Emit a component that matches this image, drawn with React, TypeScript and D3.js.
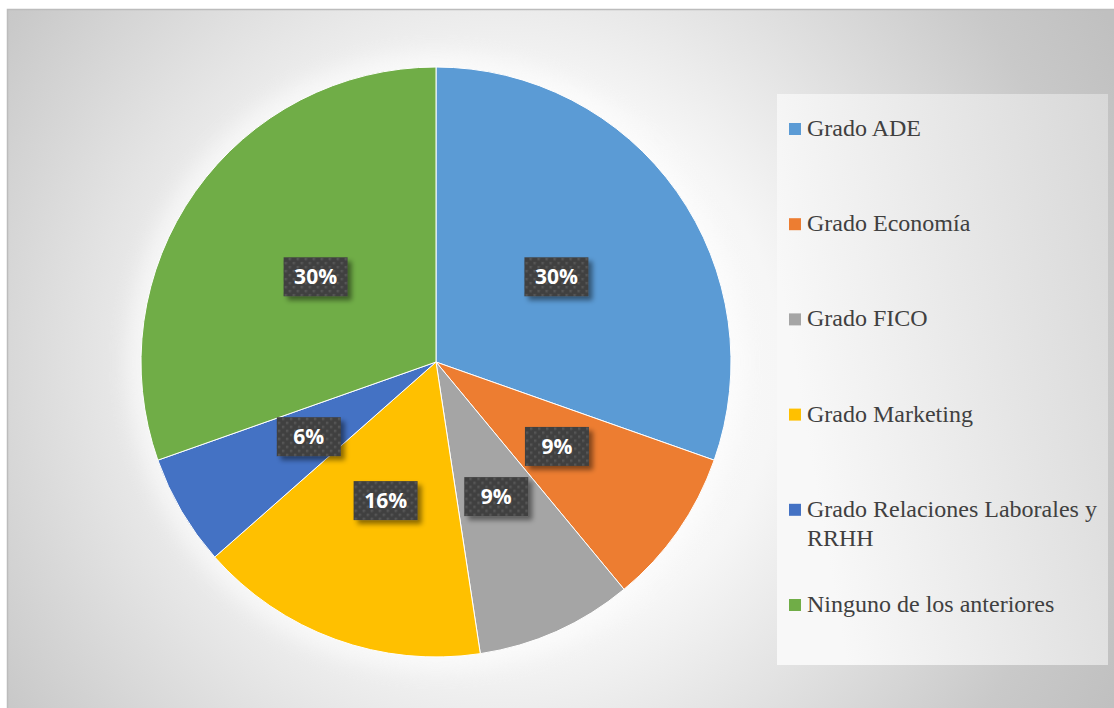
import React from "react";
import * as d3 from "d3";

const categories = [
  "Grado ADE",
  "Grado Economía",
  "Grado FICO",
  "Grado Marketing",
  "Grado Relaciones Laborales y RRHH",
  "Ninguno de los anteriores",
];
const legendLines = [
  ["Grado ADE"],
  ["Grado Economía"],
  ["Grado FICO"],
  ["Grado Marketing"],
  ["Grado Relaciones Laborales y", "RRHH"],
  ["Ninguno de los anteriores"],
];
const values = [30.4, 8.6, 8.6, 15.9, 6.1, 30.4];
const colors = ["#5B9BD5", "#ED7D31", "#A5A5A5", "#FFC000", "#4472C4", "#70AD47"];

const W = 1114;
const H = 708;
const cx = 436;
const cy = 362;
const R = 295;

export default function App() {
  const total = d3.sum(values);
  const pie = d3.pie<number>().sort(null).value((d) => d)(values);
  const arc = d3.arc<d3.PieArcDatum<number>>().innerRadius(0).outerRadius(R);
  const labelArc = d3.arc<d3.PieArcDatum<number>>().innerRadius(R * 0.5).outerRadius(R * 0.5);
  const fmt = (v: number) => `${Math.round((v / total) * 100)}%`;

  const legendX = 777;
  const legendY = 94;
  const legendW = 331;
  const legendH = 571;
  const baseline0 = 136;
  const step = 95.2;

  return (
    <svg
      width={W}
      height={H}
      style={{ position: "absolute", left: 0, top: 0, display: "block" }}
    >
      <defs>
        <radialGradient id="bg" cx="500" cy="365" r="700" gradientUnits="userSpaceOnUse">
          <stop offset="0" stopColor="#ffffff" />
          <stop offset="0.4" stopColor="#f6f6f6" />
          <stop offset="0.85" stopColor="#c9c9c9" />
          <stop offset="1" stopColor="#c0c0c0" />
        </radialGradient>
        <linearGradient id="leg" x1="0" y1="0.3" x2="1" y2="0">
          <stop offset="0" stopColor="#f8f8f8" />
          <stop offset="1" stopColor="#d8d8d8" />
        </linearGradient>
        <pattern id="dots" width="8" height="8" patternUnits="userSpaceOnUse">
          <rect width="8" height="8" fill="#3f3f3f" />
          <rect x="1" y="1" width="2.5" height="2.5" fill="#565656" />
          <rect x="5" y="5" width="2.5" height="2.5" fill="#565656" />
        </pattern>
        <filter id="shadow" x="-30%" y="-30%" width="160%" height="160%">
          <feDropShadow dx="4" dy="4" stdDeviation="2.5" floodColor="#000" floodOpacity="0.45" />
        </filter>
        <filter id="pieShadow" x="-20%" y="-20%" width="140%" height="140%">
          <feGaussianBlur stdDeviation="10" />
        </filter>
      </defs>
      <rect x={0} y={0} width={W} height={H} fill="#ffffff" />
      <rect x={7.5} y={9.5} width={W} height={H} fill="url(#bg)" stroke="#bcbcbc" strokeWidth={1.5} />
      <circle cx={cx} cy={cy} r={R + 14} fill="#ffffff" opacity={0.55} filter="url(#pieShadow)" />

      <rect x={legendX} y={legendY} width={legendW} height={legendH} fill="url(#leg)" />

      <g transform={`translate(${cx},${cy})`}>
        {pie.map((p, i) => (
          <path key={categories[i]} d={arc(p) || ""} fill={colors[i]} stroke="#ffffff" strokeWidth={1} />
        ))}
        {pie.map((p, i) => {
          const [lx, ly] = labelArc.centroid(p);
          const bw = 64;
          const bh = 39;
          return (
            <g key={"l" + i} transform={`translate(${lx},${ly})`}>
              <rect x={-bw / 2} y={-bh / 2} width={bw} height={bh} fill="url(#dots)" filter="url(#shadow)" />
              <text
                x={0}
                y={0}
                dy="0.36em"
                textAnchor="middle"
                fill="#ffffff"
                fontFamily="Open Sans, Liberation Sans, sans-serif"
                fontWeight={700}
                fontSize={21}
              >
                {fmt(values[i])}
              </text>
            </g>
          );
        })}
      </g>

      <g>
        {legendLines.map((lines, i) => {
          const by = baseline0 + i * step;
          return (
            <g key={"leg" + i}>
              <rect x={789} y={by - 13} width={12} height={12} fill={colors[i]} />
              <text
                x={807}
                y={by}
                fill="#404040"
                style={{ fontFamily: "'Liberation Serif', 'Times New Roman', Times, serif" }}
                fontSize={24}
              >
                {lines.map((ln, j) => (
                  <tspan key={j} x={807} y={by + j * 29}>
                    {ln}
                  </tspan>
                ))}
              </text>
            </g>
          );
        })}
      </g>
    </svg>
  );
}
